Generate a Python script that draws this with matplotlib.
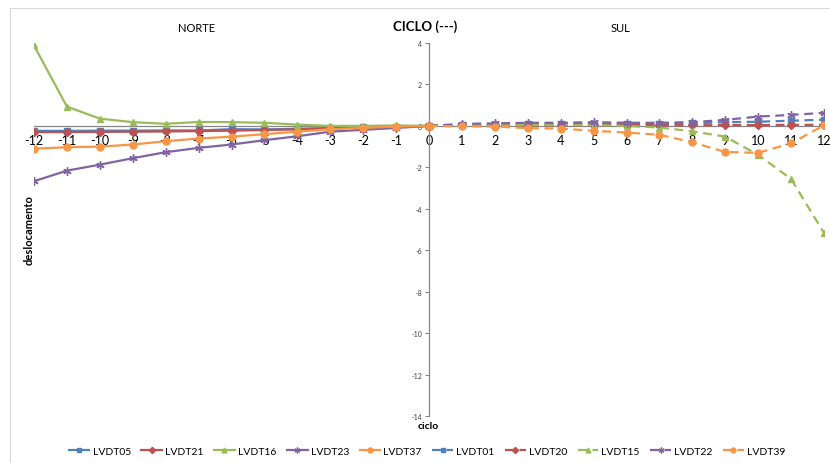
import matplotlib.pyplot as plt
import matplotlib.patches as mpatches
import numpy as np

plt.rcParams['font.family'] = ['Lato', 'DejaVu Sans']
plt.rcParams['axes.unicode_minus'] = False

# NORTE side (ciclo -12 .. 0), solid lines
ciclo_norte = list(range(-12, 1))
lvdt05 = [-0.24, -0.24, -0.23, -0.23, -0.22, -0.22, -0.16, -0.17, -0.14, -0.10, -0.07, -0.03, 0.0]
lvdt21 = [-0.30, -0.30, -0.29, -0.28, -0.27, -0.25, -0.23, -0.20, -0.17, -0.12, -0.08, -0.04, 0.0]
lvdt16 = [3.88, 0.93, 0.35, 0.18, 0.10, 0.19, 0.18, 0.15, 0.06, 0.0, 0.0, 0.02, 0.0]
lvdt23 = [-2.67, -2.16, -1.87, -1.56, -1.27, -1.06, -0.90, -0.69, -0.50, -0.28, -0.19, -0.10, 0.0]
lvdt37 = [-1.10, -1.03, -1.00, -0.90, -0.74, -0.61, -0.52, -0.40, -0.28, -0.16, -0.10, -0.03, 0.0]

# SUL side (ciclo 0 .. 12), dashed lines
ciclo_sul = list(range(0, 13))
lvdt01 = [0.0, 0.05, 0.06, 0.08, 0.08, 0.10, 0.09, 0.10, 0.12, 0.18, 0.20, 0.25, 0.30]
lvdt20 = [0.0, 0.02, 0.03, 0.03, 0.03, 0.04, 0.03, 0.03, 0.03, 0.04, 0.04, 0.05, 0.05]
lvdt15 = [0.0, 0.02, 0.03, 0.04, 0.04, 0.04, 0.0, -0.08, -0.26, -0.52, -1.40, -2.56, -5.17]
lvdt22 = [0.0, 0.10, 0.12, 0.15, 0.15, 0.18, 0.15, 0.15, 0.18, 0.29, 0.45, 0.53, 0.63]
lvdt39 = [0.0, -0.02, -0.03, -0.11, -0.13, -0.24, -0.32, -0.43, -0.79, -1.26, -1.30, -0.84, 0.03]

BLUE, RED, GREEN, PURPLE, ORANGE = '#4F81BD', '#C0504D', '#9BBB59', '#8064A2', '#F79646'
STAR = (6, 2, 0)

series = [
    ('LVDT05', ciclo_norte, lvdt05, BLUE, 's', '-'),
    ('LVDT21', ciclo_norte, lvdt21, RED, 'D', '-'),
    ('LVDT16', ciclo_norte, lvdt16, GREEN, '^', '-'),
    ('LVDT23', ciclo_norte, lvdt23, PURPLE, STAR, '-'),
    ('LVDT37', ciclo_norte, lvdt37, ORANGE, 'o', '-'),
    ('LVDT01', ciclo_sul, lvdt01, BLUE, 's', '--'),
    ('LVDT20', ciclo_sul, lvdt20, RED, 'D', '--'),
    ('LVDT15', ciclo_sul, lvdt15, GREEN, '^', '--'),
    ('LVDT22', ciclo_sul, lvdt22, PURPLE, STAR, '--'),
    ('LVDT39', ciclo_sul, lvdt39, ORANGE, 'o', '--'),
]

fig = plt.figure(figsize=(8.3, 4.64), dpi=100)
ax = fig.add_axes([34/830, 1-417/464, (824-34)/830, (417-44)/464])

# light frame around chart area
fig.patches.append(mpatches.Rectangle((10/830, -0.05), 1.0, 1-9/464+0.05, transform=fig.transFigure,
                                      fill=False, edgecolor='#D9D9D9', lw=0.8))

for name, xs, ys, col, mk, ls in series:
    ms = 5 if mk in ('s', 'o', '^') else 4.5
    if mk is STAR:
        ms = 6
    ax.plot(xs, ys, color=col, ls=ls, lw=1.6, marker=mk, ms=ms, mec=col, mfc=col,
            mew=1.0, label=name, dashes=(4, 2.5) if ls == '--' else (None, None), zorder=3)

ax.set_xlim(-12, 12)
ax.set_ylim(-14, 4)
ax.spines['left'].set_position(('data', 0))
ax.spines['bottom'].set_position(('data', 0))
ax.spines['top'].set_visible(False)
ax.spines['right'].set_visible(False)
for s in ('left', 'bottom'):
    ax.spines[s].set_color('#868686')
    ax.spines[s].set_linewidth(0.9)
ax.spines['bottom'].set_zorder(2)

ax.set_xticks(np.arange(-12, 13, 1))
ax.set_yticks(np.arange(-14, 5, 2))
ax.tick_params(axis='x', length=0, labelsize=9, pad=6)
ax.tick_params(axis='y', length=3, color='#868686', labelsize=5, labelcolor='#404040', pad=2)
ax.patch.set_alpha(0)

fig.text(425/830, 1-27/464, 'CICLO (---)', ha='center', va='center', fontsize=9.5, fontweight='bold')
fig.text(197/830, 1-29/464, 'NORTE', ha='center', va='center', fontsize=8)
fig.text(620/830, 1-29/464, 'SUL', ha='center', va='center', fontsize=8)
fig.text(29/830, 1-230/464, 'deslocamento', ha='center', va='center', rotation=90,
         fontsize=8, fontweight='bold')
fig.text(428/830, 1-427/464, 'ciclo', ha='center', va='center', fontsize=7.5, fontweight='bold')

fig.legend(loc='center', bbox_to_anchor=(427/830, 1-452/464), ncol=10, frameon=False,
           fontsize=7.5, handlelength=2.0, handletextpad=0.3, columnspacing=1.0, markerscale=0.7)

fig.savefig('out.png', dpi=100)
